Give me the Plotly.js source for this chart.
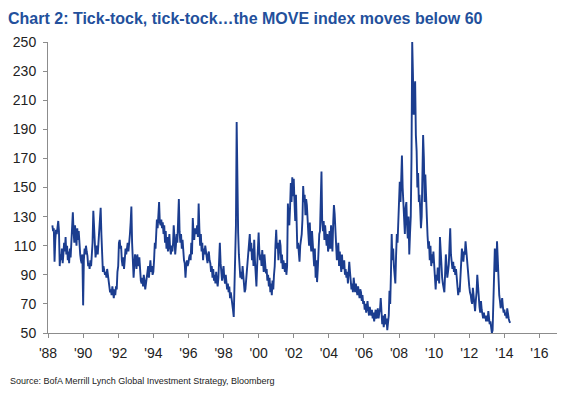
<!DOCTYPE html>
<html>
<head>
<meta charset="utf-8">
<script src="https://cdn.plot.ly/plotly-3.0.1.min.js"></script>
<style>html,body{margin:0;padding:0;background:#fff;}#chart{width:569px;height:398px;}</style>
</head>
<body>
<div id="chart"></div>
<script>
// MOVE index, semi-monthly readings (1st and 16th of each month), from Apr 1988
const startYear = 1988;
const startMonth = 4;
const y1988 = [124,120, 122,99, 114,121, 118,124, 127,120, 96,104, 100,108, 98,104, 112,106];
const y1989 = [116,104, 110,100, 106,98, 108,102, 110,118, 133,120, 112,124, 118,110, 122,114, 120,110, 104,100, 98,104];
const y1990 = [69,100, 108,104, 110,106, 103,96, 98,94, 100,96, 104,112, 134,120, 110,102, 106,110, 104,112, 118,128];
const y1991 = [136,118, 98,92, 96,94, 90,92, 88,94, 90,86, 82,78, 80,76, 82,78, 74,80, 76,82, 80,92];
const y1992 = [96,112, 114,108, 110,100, 96,102, 94,100, 108,104, 110,112, 106,110, 118,126, 137,112, 100,88, 96,104];
const y1993 = [100,94, 104,98, 96,102, 90,86, 84,88, 82,90, 86,80, 84,88, 90,96, 88,98, 100,92, 96,90];
const y1994 = [92,100, 112,108, 124,128, 122,130, 140,126, 124,128, 122,126, 118,124, 112,120, 108,116, 106,112, 118,108];
const y1995 = [104,110, 106,112, 124,116, 104,110, 118,112, 126,142, 120,112, 118,108, 114,104, 100,98, 88,96, 100,96];
const y1996 = [98,102, 104,100, 112,104, 129,118, 114,122, 118,120, 124,116, 139,122, 110,118, 106,112, 100,108, 104,110];
const y1997 = [106,100, 98,104, 106,100, 98,92, 96,88, 94,86, 90,84, 92,86, 82,88, 96,112, 98,90, 86,92];
const y1998 = [96,88, 84,90, 86,80, 84,78, 82,74, 78,72, 70,66, 61,80, 110,124, 195,135, 119,104, 96,88];
const y1999 = [92,87, 96,90, 84,78, 80,86, 94,98, 104,110, 118,106, 112,100, 108,96, 114,100, 84,82, 96,108];
const y2000 = [119,106, 100,104, 96,107, 98,92, 104,96, 91,94, 86,90, 82,88, 78,84, 76,86, 80,90, 96,110];
const y2001 = [121,108, 112,100, 106,114, 110,98, 104,94, 100,96, 92,98, 90,96, 139,128, 124,136, 153,140, 157,144];
const y2002 = [156,140, 127,145, 118,108, 112,104, 99,110, 114,118, 128,151, 140,145, 131,142, 138,124, 118,110, 126,112];
const y2003 = [106,120, 112,104, 96,108, 88,100, 85,94, 112,118, 120,140, 161,126, 120,127, 114,124, 116,110, 118,106];
const y2004 = [110,120, 108,124, 114,106, 126,138, 132,118, 110,100, 104,112, 96,106, 98,92, 104,94, 96,100, 90,94];
const y2005 = [88,92, 84,90, 99,92, 86,80, 84,78, 88,82, 78,84, 80,76, 82,78, 74,80, 78,72, 76,70];
const y2006 = [72,66, 70,64, 68,72, 66,62, 68,64, 62,66, 60,64, 58,62, 66,60, 62,67, 60,64, 66,74];
const y2007 = [60,56, 62,54, 58,63, 56,60, 52,56, 62,79, 70,90, 118,100, 108,96, 90,84, 104,118, 112,124];
const y2008 = [136,154, 140,160, 172,150, 140,128, 118,136, 140,124, 115,130, 104,118, 130,170, 250,228, 200,215, 223,186];
const y2009 = [175,150, 160,140, 145,136, 122,130, 150,186, 170,140, 159,136, 130,117, 108,113, 100,110, 96,104, 98,106];
const y2010 = [95,84, 80,90, 86,95, 88,84, 116,104, 95,88, 84,80, 78,90, 104,96, 88,92, 97,110, 122,104];
const y2011 = [98,94, 99,92, 96,90, 94,88, 80,76, 81,78, 88,100, 108,104, 99,106, 104,113, 106,96, 90,84];
const y2012 = [82,78, 76,72, 70,81, 74,68, 65,72, 78,90, 80,72, 68,64, 72,66, 62,60, 64,60, 62,58];
const y2013 = [62,58, 65,60, 56,58, 54,50, 52,70, 85,108, 100,92, 113,96, 88,76, 72,67, 70,74, 68,64];
const y2014 = [66,62, 64,60, 67,62, 60,58, 57];

const yearly = [y1988,y1989,y1990,y1991,y1992,y1993,y1994,y1995,y1996,y1997,y1998,y1999,y2000,
  y2001,y2002,y2003,y2004,y2005,y2006,y2007,y2008,y2009,y2010,y2011,y2012,y2013,y2014];

const xTickLabels = ["'88","'90","'92","'94","'96","'98","'00","'02","'04","'06","'08","'10","'12","'14","'16"];
const xTickYears = [1988,1990,1992,1994,1996,1998,2000,2002,2004,2006,2008,2010,2012,2014,2016];
const yTicks = [50,70,90,110,130,150,170,190,210,230,250];

const dates = [], vals = [];
yearly.forEach((arr, k) => {
  const yr = startYear + k;
  const m0 = (k === 0) ? startMonth : 1;
  arr.forEach((v, i) => {
    const m = m0 + Math.floor(i / 2);
    const d = (i % 2) ? '16' : '01';
    dates.push(yr + '-' + String(m).padStart(2, '0') + '-' + d);
    vals.push(v);
  });
});

const W = 569, H = 398, L = 48, R = 12, T = 42, B = 65;
const pw = W - L - R, ph = H - T - B;

const data = [{
  type: 'scatter', mode: 'lines', x: dates, y: vals,
  line: {color: '#1b3d8f', width: 1.9}, hoverinfo: 'skip'
}];

const layout = {
  width: W, height: H,
  margin: {l: L, r: R, t: T, b: B},
  paper_bgcolor: '#fff', plot_bgcolor: '#fff',
  showlegend: false,
  title: {
    text: 'Chart 2: Tick-tock, tick-tock…the MOVE index moves below 60',
    xref: 'container', yref: 'container',
    x: 8 / W, xanchor: 'left', y: 1 - 18 / H, yanchor: 'middle',
    font: {family: 'Liberation Sans Narrow, Arial Narrow, Liberation Sans, sans-serif', size: 16, color: '#23509c', weight: 'bold'}
  },
  xaxis: {
    type: 'date',
    range: ['1988-01-01', '2016-12-31'],
    tickvals: xTickYears.map(y => y + '-01-01'),
    ticktext: xTickLabels,
    showgrid: false, zeroline: false,
    showline: true, linecolor: '#8c8c8c', linewidth: 1,
    ticks: 'outside', ticklen: 4, tickcolor: '#8c8c8c', tickwidth: 1,
    ticklabelstandoff: 3,
    tickfont: {family: 'Liberation Sans, Arial, sans-serif', size: 14, color: '#222'}
  },
  yaxis: {
    range: [50, 250],
    tickvals: yTicks,
    showgrid: false, zeroline: false,
    showline: true, linecolor: '#8c8c8c', linewidth: 1,
    ticks: 'outside', ticklen: 4, tickcolor: '#8c8c8c', tickwidth: 1,
    ticklabelstandoff: 4,
    tickfont: {family: 'Liberation Sans, Arial, sans-serif', size: 14, color: '#222'}
  },
  annotations: [{
    text: 'Source: BofA Merrill Lynch Global Investment Strategy, Bloomberg',
    xref: 'paper', yref: 'paper',
    x: (8 - L) / pw, xanchor: 'left',
    y: ((H - B) - 381) / ph, yanchor: 'middle',
    showarrow: false,
    font: {family: 'Liberation Sans Narrow, Arial Narrow, Liberation Sans, sans-serif', size: 9, color: '#222'}
  }]
};

Plotly.newPlot('chart', data, layout, {staticPlot: true, displayModeBar: false});
</script>
</body>
</html>
